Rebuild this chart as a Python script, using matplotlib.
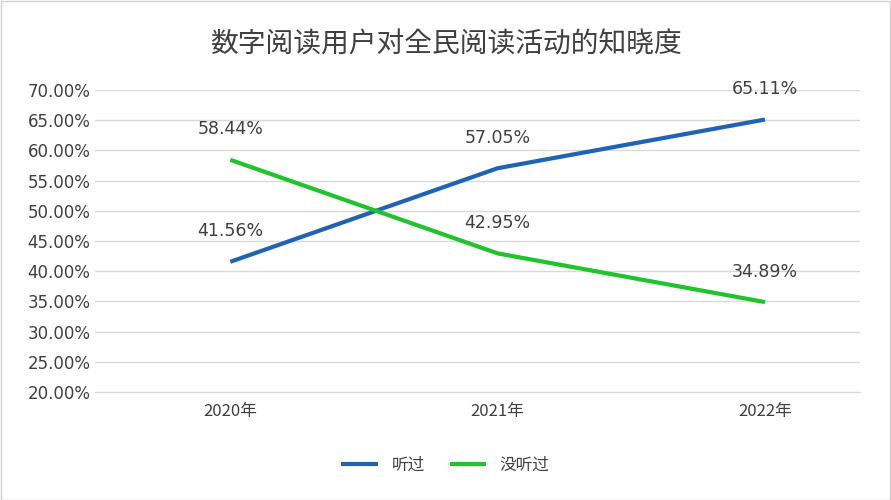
import matplotlib.pyplot as plt

plt.rcParams['font.family'] = 'sans-serif'
plt.rcParams['font.sans-serif'] = ['Noto Sans CJK SC', 'Noto Sans CJK JP', 'Noto Sans CJK TC', 'DejaVu Sans']

years = ['2020年', '2021年', '2022年']
heard = [41.56, 57.05, 65.11]
not_heard = [58.44, 42.95, 34.89]

fig = plt.figure(figsize=(8.91, 5), dpi=100)
fig.patches.append(plt.Rectangle((0.001, 0.001), 0.998, 0.998, transform=fig.transFigure,
                                 fill=False, edgecolor='#d0d0d0', linewidth=1))
ax = fig.add_axes([0.107, 0.216, 0.858, 0.604])

x = range(len(years))
ax.plot(x, heard, color='#1f64b4', linewidth=3, label='听过', solid_capstyle='butt')
ax.plot(x, not_heard, color='#1fc42a', linewidth=3, label='没听过', solid_capstyle='butt')
for xi, v in zip(x, heard):
    ax.annotate(f'{v:.2f}%', (xi, v), xytext=(0, 22), textcoords='offset points',
                ha='center', va='center', fontsize=12.5, color='#404040', family='DejaVu Sans')
for xi, v in zip(x, not_heard):
    ax.annotate(f'{v:.2f}%', (xi, v), xytext=(0, 22), textcoords='offset points',
                ha='center', va='center', fontsize=12.5, color='#404040', family='DejaVu Sans')

ax.set_xlim(-0.505, 2.355)
ax.set_ylim(20, 70)
ax.set_yticks(range(20, 71, 5))
ax.set_yticklabels([f'{t:.2f}%' for t in range(20, 71, 5)], family='DejaVu Sans')
ax.set_xticks(list(x))
ax.set_xticklabels(years)
ax.tick_params(length=0, labelsize=12, colors='#404040')
ax.tick_params(axis='x', pad=8)
ax.grid(axis='y', color='#d9d9d9', linewidth=1)
ax.set_axisbelow(True)
for s in ['top', 'right', 'left']:
    ax.spines[s].set_visible(False)
ax.spines['bottom'].set_color('#d9d9d9')

fig.text(0.5, 0.91, '数字阅读用户对全民阅读活动的知晓度', ha='center', va='center',
         fontsize=20, color='#404040')
fig.legend(loc='center', bbox_to_anchor=(0.5, 0.07), ncol=2, frameon=False,
           fontsize=12, handlelength=2.2, columnspacing=1.5, labelcolor='#404040')

fig.savefig('out.png', dpi=100)
